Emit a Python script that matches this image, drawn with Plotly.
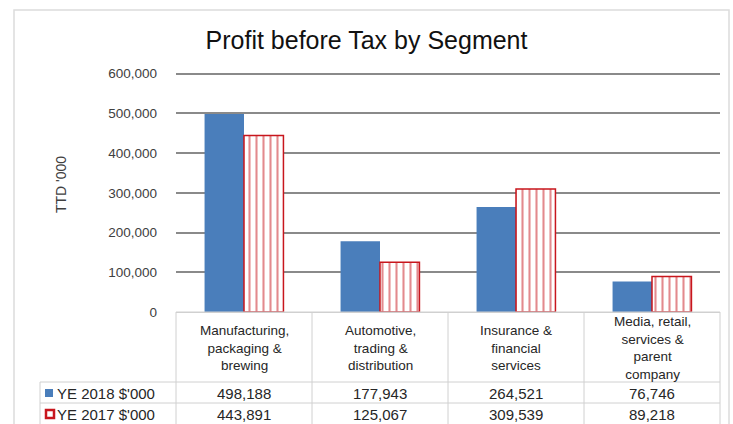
import plotly.graph_objects as go

categories = ["Manufacturing, packaging & brewing", "Automotive, trading & distribution",
              "Insurance & financial services", "Media, retail, services & parent company"]
cat_labels = ["Manufacturing,<br>packaging &<br>brewing", "Automotive,<br>trading &<br>distribution",
              "Insurance &<br>financial<br>services", "Media, retail,<br>services &<br>parent<br>company"]
series_2018 = [498188, 177943, 264521, 76746]
series_2017 = [443891, 125067, 309539, 89218]
name_2018 = "YE 2018 $'000"
name_2017 = "YE 2017 $'000"
tick_vals = [0, 100000, 200000, 300000, 400000, 500000, 600000]
y_max = 604000

W, H = 733, 424
L, R, T, B = 176, 13, 72, 112
PW, PH = W - L - R, H - T - B


def px_x(p):
    return (p - L) / PW


def px_y(p):
    return (H - B - p) / PH


BLUE = "#4a7ebb"
RED = "#c8161d"
GRID_LIGHT = "#d0d0d0"
FONT = "Liberation Sans, Arial, sans-serif"

fig = go.Figure()
fig.add_trace(go.Bar(x=categories, y=series_2018, name=name_2018,
                     marker=dict(color=BLUE, line=dict(width=0))))
fig.add_trace(go.Bar(x=categories, y=series_2017, name=name_2017,
                     marker=dict(color="white", line=dict(color=RED, width=1.5),
                                 pattern=dict(shape="|", fgcolor=RED, bgcolor="white",
                                              size=7, solidity=0.3))))

shapes = []
annotations = []

# outer frame
shapes.append(dict(type="rect", xref="paper", yref="paper",
                   x0=px_x(14), x1=px_x(729), y0=px_y(440), y1=px_y(10),
                   line=dict(color="#dcdcdc", width=1.5), fillcolor="rgba(0,0,0,0)", layer="below"))

# table lines
line_style = dict(color=GRID_LIGHT, width=1)
shapes.append(dict(type="line", xref="paper", yref="paper", x0=px_x(176), x1=px_x(720),
                   y0=px_y(312), y1=px_y(312), line=line_style, layer="above"))
for yy in (382, 403):
    shapes.append(dict(type="line", xref="paper", yref="paper", x0=px_x(40), x1=px_x(720),
                       y0=px_y(yy), y1=px_y(yy), line=line_style, layer="above"))
for xx in (176, 312, 448, 584, 720):
    shapes.append(dict(type="line", xref="paper", yref="paper", x0=px_x(xx), x1=px_x(xx),
                       y0=px_y(312), y1=px_y(430), line=line_style, layer="above"))
shapes.append(dict(type="line", xref="paper", yref="paper", x0=px_x(40), x1=px_x(40),
                   y0=px_y(382), y1=px_y(430), line=line_style, layer="above"))

# legend keys
shapes.append(dict(type="rect", xref="paper", yref="paper", x0=px_x(45), x1=px_x(53),
                   y0=px_y(397), y1=px_y(389), fillcolor=BLUE, line=dict(width=0)))
shapes.append(dict(type="rect", xref="paper", yref="paper", x0=px_x(46), x1=px_x(54),
                   y0=px_y(418), y1=px_y(410), fillcolor="white", line=dict(color=RED, width=2.5)))

txt_font = dict(family=FONT, size=15, color="#262626")
annotations.append(dict(text=name_2018, xref="paper", yref="paper", x=px_x(55), y=px_y(393),
                        xanchor="left", yanchor="middle", showarrow=False, font=txt_font))
annotations.append(dict(text=name_2017, xref="paper", yref="paper", x=px_x(55), y=px_y(414),
                        xanchor="left", yanchor="middle", showarrow=False, font=txt_font))

for c, lab, v18, v17 in zip(categories, cat_labels, series_2018, series_2017):
    annotations.append(dict(text=lab, xref="x", yref="paper", x=c, y=px_y(348),
                            xanchor="center", yanchor="middle", showarrow=False,
                            font=dict(family=FONT, size=13.5, color="#262626")))
    annotations.append(dict(text=f"{v18:,}", xref="x", yref="paper", x=c, y=px_y(393),
                            xanchor="center", yanchor="middle", showarrow=False, font=txt_font))
    annotations.append(dict(text=f"{v17:,}", xref="x", yref="paper", x=c, y=px_y(414),
                            xanchor="center", yanchor="middle", showarrow=False, font=txt_font))

# y axis title
annotations.append(dict(text="TTD '000", xref="paper", yref="paper", x=px_x(61), y=px_y(185),
                        xanchor="center", yanchor="middle", textangle=-90, showarrow=False,
                        font=dict(family=FONT, size=14, color="#404040")))

fig.update_layout(
    width=W, height=H,
    margin=dict(l=L, r=R, t=T, b=B, pad=0),
    paper_bgcolor="white", plot_bgcolor="white",
    barmode="group", bargap=0.42, bargroupgap=0,
    showlegend=False,
    title=dict(text="Profit before Tax by Segment", x=0.5, xref="container", xanchor="center",
               y=1 - 40 / H, yref="container", yanchor="middle",
               font=dict(family=FONT, size=25, color="#111111")),
    font=dict(family=FONT),
    xaxis=dict(showticklabels=False, showgrid=False, zeroline=False, showline=False, ticks=""),
    yaxis=dict(range=[0, y_max], tickvals=tick_vals, tickformat=",d",
               showgrid=True, gridcolor="#8a8a8a", gridwidth=1.6,
               zeroline=True, zerolinecolor=GRID_LIGHT, zerolinewidth=1,
               showline=False, ticks="", ticklabelstandoff=18,
               tickfont=dict(family=FONT, size=13.5, color="#404040")),
    shapes=shapes, annotations=annotations,
)

fig.write_html("out.html")
